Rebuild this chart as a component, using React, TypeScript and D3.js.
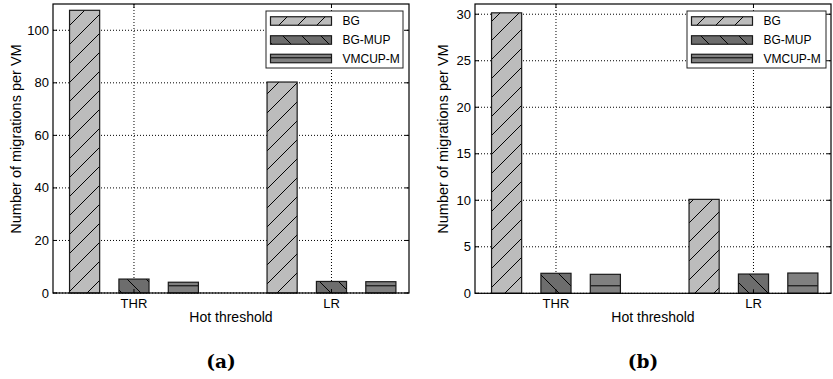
import React from "react";
import * as d3 from "d3";

// Category and series data
const categories = ["THR", "LR"];
const seriesNames = ["BG", "BG-MUP", "VMCUP-M"];

// Panel (a): migrations per VM
const bgA = [107.6, 80.3];
const bgMupA = [5.3, 4.4];
const vmcupA = [4.1, 4.3];
const yTicksA = [0, 20, 40, 60, 80, 100];

// Panel (b): migrations per VM
const bgB = [30.15, 10.1];
const bgMupB = [2.15, 2.07];
const vmcupB = [2.04, 2.18];
const yTicksB = [0, 5, 10, 15, 20, 25, 30];

const FONT = "'Liberation Sans', Arial, sans-serif";
const fills = ["url(#hatchBG)", "url(#hatchMUP)", "url(#hatchVM)"];

type PanelProps = {
  left: number;
  right: number;
  top: number;
  bottom: number;
  yMax: number;
  yTicks: number[];
  series: number[][];
  caption: string;
  labelX: number;
  legendLeft: number;
  legendRight: number;
};

function Panel(p: PanelProps) {
  const x = d3.scaleLinear().domain([-1.64, 5.57]).range([p.left, p.right]);
  const y = d3.scaleLinear().domain([0, p.yMax]).range([p.bottom, p.top]);
  const catPos = [0, 4];
  const offsets = [-1, 0, 1];
  const barW = 0.61;
  const tickLen = 4;
  const midX = (p.left + p.right) / 2;

  const legendTop = p.top + 7;
  const legendRows = [21, 40, 58.5];
  const patchX = p.legendLeft + 4.5;
  const patchW = 61;
  const patchH = 8.5;

  return (
    <g>
      {/* grid */}
      {p.yTicks.map((t) => (
        <line
          key={"gy" + t}
          x1={p.left}
          x2={p.right}
          y1={y(t)}
          y2={y(t)}
          stroke="#000"
          strokeWidth={1}
          strokeDasharray="1,2"
        />
      ))}
      {catPos.map((c) => (
        <line
          key={"gx" + c}
          x1={x(c)}
          x2={x(c)}
          y1={p.top}
          y2={p.bottom}
          stroke="#000"
          strokeWidth={1}
          strokeDasharray="1,2"
        />
      ))}

      {/* bars */}
      {p.series.map((vals, si) =>
        vals.map((v, ci) => {
          const x0 = x(catPos[ci] + offsets[si] - barW / 2);
          const x1 = x(catPos[ci] + offsets[si] + barW / 2);
          return (
            <rect
              key={`b${si}-${ci}`}
              x={x0}
              y={y(v)}
              width={x1 - x0}
              height={y(0) - y(v)}
              fill={fills[si]}
              stroke="#1a1a1a"
              strokeWidth={1.2}
            />
          );
        })
      )}

      {/* frame */}
      <rect
        x={p.left}
        y={p.top}
        width={p.right - p.left}
        height={p.bottom - p.top}
        fill="none"
        stroke="#000"
        strokeWidth={1.2}
      />

      {/* y ticks */}
      {p.yTicks.map((t) => (
        <g key={"ty" + t}>
          <line x1={p.left} x2={p.left + tickLen} y1={y(t)} y2={y(t)} stroke="#000" />
          <line x1={p.right} x2={p.right - tickLen} y1={y(t)} y2={y(t)} stroke="#000" />
          <text
            x={p.left - 4}
            y={y(t)}
            dy="0.35em"
            textAnchor="end"
            fontFamily={FONT}
            fontSize={13}
            fill="#000"
          >
            {t}
          </text>
        </g>
      ))}

      {/* x ticks */}
      {catPos.map((c, i) => (
        <g key={"tx" + c}>
          <line x1={x(c)} x2={x(c)} y1={p.bottom} y2={p.bottom - tickLen} stroke="#000" />
          <line x1={x(c)} x2={x(c)} y1={p.top} y2={p.top + tickLen} stroke="#000" />
          <text
            x={x(c)}
            y={p.bottom + 14.5}
            textAnchor="middle"
            fontFamily={FONT}
            fontSize={13}
            fill="#000"
          >
            {categories[i]}
          </text>
        </g>
      ))}

      {/* axis titles */}
      <text
        x={midX}
        y={p.bottom + 29}
        textAnchor="middle"
        fontFamily={FONT}
        fontSize={14}
        fill="#000"
      >
        Hot threshold
      </text>
      <text
        transform={`translate(${p.labelX},139) rotate(-90)`}
        textAnchor="middle"
        dy="0.35em"
        fontFamily={FONT}
        fontSize={14.5}
        fill="#000"
      >
        Number of migrations per VM
      </text>

      {/* legend */}
      <rect
        x={p.legendLeft}
        y={legendTop}
        width={p.legendRight - p.legendLeft}
        height={57}
        fill="#fff"
        stroke="#222"
        strokeWidth={1}
      />
      {seriesNames.map((name, i) => (
        <g key={"lg" + name}>
          <rect
            x={patchX}
            y={legendRows[i] - patchH / 2}
            width={patchW}
            height={patchH}
            fill={fills[i]}
            stroke="#1a1a1a"
            strokeWidth={1.2}
          />
          <text
            x={patchX + patchW + 11}
            y={legendRows[i]}
            dy="0.35em"
            fontFamily={FONT}
            fontSize={12}
            fill="#000"
          >
            {name}
          </text>
        </g>
      ))}

      {/* caption */}
      <text
        x={midX - 10}
        y={368}
        textAnchor="middle"
        fontFamily="'DejaVu Serif', serif"
        fontWeight="bold"
        fontSize={18.5}
        fill="#000"
      >
        {p.caption}
      </text>
    </g>
  );
}

export default function App() {
  return (
    <svg
      width={833}
      height={379}
      style={{ position: "absolute", left: 0, top: 0, background: "#fff" }}
    >
      <defs>
        <pattern id="hatchBG" patternUnits="userSpaceOnUse" width={19} height={19}>
          <rect width={19} height={19} fill="#bcbcbc" />
          <path d="M-2,21 L21,-2 M-2,2 L2,-2 M17,21 L21,17" stroke="#000" strokeWidth={1} />
        </pattern>
        <pattern id="hatchMUP" patternUnits="userSpaceOnUse" width={19} height={19}>
          <rect width={19} height={19} fill="#6d6d6d" />
          <path d="M-2,-2 L21,21 M17,-2 L21,2 M-2,17 L2,21" stroke="#000" strokeWidth={1} />
        </pattern>
        <pattern id="hatchVM" patternUnits="userSpaceOnUse" width={19} height={19}>
          <rect width={19} height={19} fill="#808080" />
          <line x1={0} x2={19} y1={0.8} y2={0.8} stroke="#000" strokeWidth={1} />
        </pattern>
      </defs>
      <rect width={833} height={379} fill="#fff" />
      <Panel
        left={53}
        right={409}
        top={4}
        bottom={293}
        yMax={110}
        yTicks={yTicksA}
        series={[bgA, bgMupA, vmcupA]}
        caption="(a)"
        labelX={16}
        legendLeft={266}
        legendRight={403}
      />
      <Panel
        left={475}
        right={831}
        top={4}
        bottom={293.3}
        yMax={31.1}
        yTicks={yTicksB}
        series={[bgB, bgMupB, vmcupB]}
        caption="(b)"
        labelX={443}
        legendLeft={687}
        legendRight={826}
      />
    </svg>
  );
}
